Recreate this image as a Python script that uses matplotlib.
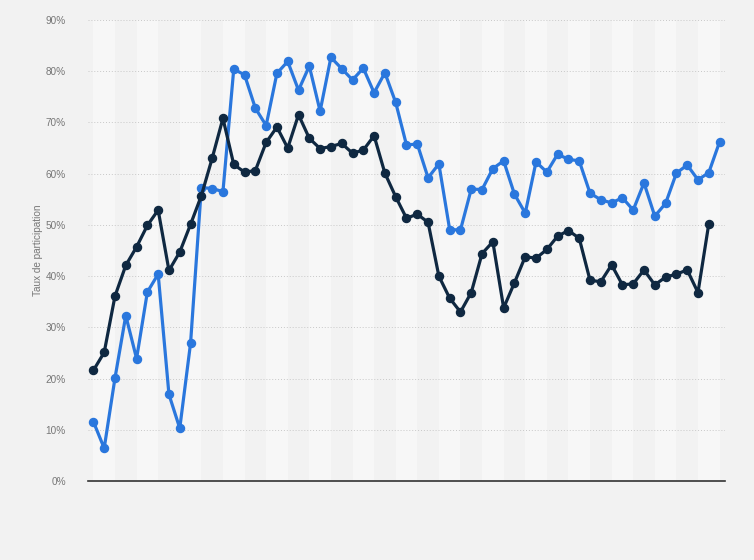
import numpy as np
import matplotlib
matplotlib.use('Agg')
import matplotlib.pyplot as plt

plt.rcParams['font.family'] = ['Liberation Sans', 'DejaVu Sans']

# participation rate (%); the x axis carries no labels
blue_vals = [11.6, 6.4, 20.1, 32.3, 23.9, 36.9, 40.4, 16.9, 10.3, 26.9,
             57.3, 57.1, 56.5, 80.4, 79.3, 72.8, 69.4, 79.6, 81.9, 76.3,
             81.0, 72.2, 82.7, 80.5, 78.3, 80.6, 75.8, 79.7, 73.9, 65.6,
             65.8, 59.2, 61.9, 49.1, 49.0, 57.0, 56.9, 61.0, 62.5, 56.0,
             52.3, 62.3, 60.3, 63.8, 62.8, 62.5, 56.2, 54.9, 54.3, 55.3,
             52.9, 58.2, 51.7, 54.2, 60.1, 61.7, 58.8, 60.2, 66.2]
dark_vals = [21.6, 25.1, 36.1, 42.1, 45.7, 49.9, 52.9, 41.1, 44.7, 50.1,
             55.7, 63.0, 70.8, 61.8, 60.3, 60.6, 66.1, 69.1, 65.0, 71.5,
             66.9, 64.9, 65.3, 65.9, 64.0, 64.6, 67.4, 60.1, 55.5, 51.3,
             52.1, 50.5, 40.0, 35.7, 33.0, 36.8, 44.4, 46.7, 33.8, 38.7,
             43.8, 43.5, 45.2, 47.8, 48.9, 47.4, 39.2, 38.9, 42.2, 38.3,
             38.5, 41.2, 38.3, 39.8, 40.4, 41.2, 36.8, 50.2]
y_ticks = [0, 10, 20, 30, 40, 50, 60, 70, 80, 90]

BG = '#f2f2f2'
BAND = '#f7f7f7'
BLUE = '#2a77dd'
DARK = '#0f2841'
GREY = '#777777'

fig = plt.figure(figsize=(7.54, 5.60), dpi=100, facecolor=BG)
ax = fig.add_axes([0.1167, 0.141, 0.8448, 0.8233])
ax.set_facecolor(BG)

n = len(blue_vals)
x_blue = np.arange(n)
x_dark = np.arange(len(dark_vals))

# alternating light bands, two periods wide
for k in range(0, n - 1, 4):
    ax.axvspan(k, k + 2, color=BAND, lw=0, zorder=0)

for yt in y_ticks[1:]:
    ax.axhline(yt, color='#c8c8c8', lw=0.7, ls=(0, (1, 2)), zorder=1)

ax.plot(x_blue, blue_vals, color=BLUE, lw=2.3, marker='o', ms=5.8,
        zorder=3, solid_joinstyle='round')
ax.plot(x_dark, dark_vals, color=DARK, lw=2.3, marker='o', ms=5.8,
        zorder=4, solid_joinstyle='round')

ax.set_xlim(-0.5, n - 0.5)
ax.set_ylim(0, 90)
ax.set_xticks([])
ax.set_yticks(y_ticks)
ax.set_yticklabels([f'{v}%' for v in y_ticks], color=GREY, fontsize=7.2)
ax.tick_params(axis='y', length=0, pad=16)
ax.set_ylabel('Taux de participation', color=GREY, fontsize=7.2, labelpad=2)

for side in ('top', 'right', 'left'):
    ax.spines[side].set_visible(False)
ax.spines['bottom'].set_color('#333333')
ax.spines['bottom'].set_linewidth(1.2)
ax.spines['bottom'].set_zorder(5)

fig.savefig('out.png', dpi=100, facecolor=BG)
